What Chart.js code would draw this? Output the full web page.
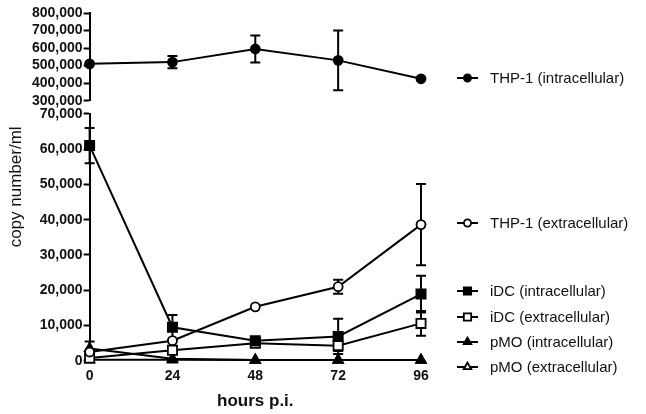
<!DOCTYPE html>
<html>
<head>
<meta charset="utf-8">
<script src="https://cdn.jsdelivr.net/npm/chart.js@4.4.1/dist/chart.umd.min.js"></script>
<style>
  html, body { margin: 0; padding: 0; background: #fff; }
  #wrap { width: 646px; height: 414px; position: relative; }
</style>
</head>
<body>
<div id="wrap"><canvas id="myChart" width="646" height="414"></canvas></div>
<script>
// hours post infection
var hours = [0, 24, 48, 72, 96];

// copy number/ml
var thp1Intra = [510000, 520000, 595000, 530000, 425000];
var thp1IntraErr = [0, 35000, 77000, 170000, 0];
var thp1Extra = [2500, 5700, 15300, 21000, 38600];
var thp1ExtraErr = [0, 0, 0, 2000, 11500];
var idcIntra = [61000, 9500, 5700, 6900, 18900];
var idcIntraErr = [5000, 3500, 0, 5000, 5200];
var idcExtra = [800, 3000, 5000, 4300, 10600];
var idcExtraErr = [0, 0, 1000, 1500, 3500];
var pmoIntra = [3500, 600, 200, 200, 200];
var pmoIntraErr = [2000, 0, 0, 0, 0];
var pmoExtra = [300, 300, 200, 200, 200];
var pmoExtraErr = [0, 0, 0, 0, 0];

var labels = ['THP-1 (intracellular)', 'THP-1 (extracellular)', 'iDC (intracellular)',
              'iDC (extracellular)', 'pMO (intracellular)', 'pMO (extracellular)'];
var topTicks = [300000, 800000];
var bottomTicks = [0, 70000];

function pts(vals) {
    return vals.map(function (v, i) { return { x: hours[i], y: v }; });
}

function series(label, vals, errs, style, filled, radius, axis) {
    return {
        label: label,
        data: pts(vals),
        errors: errs,
        yAxisID: axis,
        borderColor: '#000',
        borderWidth: 2,
        pointStyle: style,
        pointRadius: radius,
        pointBorderWidth: 1.8,
        pointBackgroundColor: filled ? '#000' : '#fff',
        pointBorderColor: '#000',
        clip: false,
        tension: 0
    };
}

// error bars drawn under the markers
var errorBars = {
    id: 'errorBars',
    beforeDatasetsDraw: function (chart) {
        var ctx = chart.ctx;
        var xs = chart.scales.x;
        ctx.save();
        ctx.strokeStyle = '#000';
        ctx.lineWidth = 2;
        chart.data.datasets.forEach(function (ds) {
            var ys = chart.scales[ds.yAxisID];
            ds.data.forEach(function (p, i) {
                var e = ds.errors[i];
                if (!e) return;
                var x = xs.getPixelForValue(p.x);
                var y1 = ys.getPixelForValue(p.y + e);
                var y2 = ys.getPixelForValue(p.y - e);
                ctx.beginPath();
                ctx.moveTo(x, y1); ctx.lineTo(x, y2);
                ctx.moveTo(x - 5, y1); ctx.lineTo(x + 5, y1);
                ctx.moveTo(x - 5, y2); ctx.lineTo(x + 5, y2);
                ctx.stroke();
            });
        });
        ctx.restore();
    }
};

// y title and the legend on the right
var legendYs = [78, 223, 291, 317, 342, 367];
var extras = {
    id: 'extras',
    afterDraw: function (chart) {
        var ctx = chart.ctx;
        var area = chart.chartArea;
        ctx.save();
        ctx.fillStyle = '#111';
        ctx.font = '17px "Liberation Sans", Arial, sans-serif';
        ctx.textAlign = 'center';
        ctx.textBaseline = 'middle';
        ctx.translate(16, (area.top + area.bottom) / 2);
        ctx.rotate(-Math.PI / 2);
        ctx.fillText('copy number/ml', 0, 0);
        ctx.restore();

        ctx.save();
        chart.data.datasets.forEach(function (ds, i) {
            var y = legendYs[i];
            ctx.strokeStyle = '#000';
            ctx.lineWidth = 2;
            ctx.beginPath();
            ctx.moveTo(457, y); ctx.lineTo(478, y);
            ctx.stroke();
            ctx.fillStyle = ds.pointBackgroundColor;
            ctx.lineWidth = 1.8;
            Chart.helpers.drawPoint(ctx, {
                pointStyle: ds.pointStyle,
                radius: ds.pointRadius * 0.8,
                rotation: 0,
                borderWidth: 1.8
            }, 467.5, y);
            ctx.fillStyle = '#111';
            ctx.font = '15px "Liberation Sans", Arial, sans-serif';
            ctx.textAlign = 'left';
            ctx.textBaseline = 'middle';
            ctx.fillText(ds.label, 490, y + 1);
        });
        ctx.restore();
    }
};

var tickFont = { family: '"Liberation Sans", Arial, sans-serif', size: 14, weight: 'bold' };
function fmt(v) { return Number(v).toLocaleString('en-US'); }

var ctx = document.getElementById('myChart').getContext('2d');
var chart = new Chart(ctx, {
    type: 'line',
    data: {
        datasets: [
            series(labels[0], thp1Intra, thp1IntraErr, 'circle', true, 4.5, 'yTop'),
            series(labels[1], thp1Extra, thp1ExtraErr, 'circle', false, 4.5, 'y'),
            series(labels[2], idcIntra, idcIntraErr, 'rect', true, 6.5, 'y'),
            series(labels[3], idcExtra, idcExtraErr, 'rect', false, 6.5, 'y'),
            series(labels[4], pmoIntra, pmoIntraErr, 'triangle', true, 5.5, 'y'),
            series(labels[5], pmoExtra, pmoExtraErr, 'triangle', false, 5.5, 'y')
        ]
    },
    options: {
        responsive: false,
        animation: false,
        layout: { padding: { left: 31, right: 225, top: 13, bottom: 2 } },
        plugins: { legend: { display: false }, tooltip: { enabled: false } },
        scales: {
            x: {
                type: 'linear',
                min: hours[0],
                max: hours[hours.length - 1],
                grid: { display: false, drawTicks: false },
                border: { display: false },
                ticks: { stepSize: 24, color: '#111', font: tickFont, padding: 7 },
                title: {
                    display: true,
                    text: 'hours p.i.',
                    color: '#111',
                    font: { family: '"Liberation Sans", Arial, sans-serif', size: 17, weight: 'bold' },
                    padding: { top: 0, bottom: 0 }
                }
            },
            // stacked axes are placed bottom-up in the order they are defined
            y: {
                type: 'linear',
                position: 'left',
                stack: 'left',
                stackWeight: 245,
                min: bottomTicks[0],
                max: bottomTicks[1],
                grid: { display: true, drawOnChartArea: false, tickLength: 6, tickWidth: 2, color: '#000' },
                border: { display: true, color: '#000', width: 2 },
                ticks: { stepSize: 10000, autoSkip: false, color: '#111', font: tickFont, padding: 1, callback: fmt }
            },
            yGap: {
                type: 'linear',
                position: 'left',
                stack: 'left',
                stackWeight: 13,
                grid: { display: false },
                border: { display: false },
                ticks: { display: false }
            },
            yTop: {
                type: 'linear',
                position: 'left',
                stack: 'left',
                stackWeight: 87,
                min: topTicks[0],
                max: topTicks[1],
                grid: { display: true, drawOnChartArea: false, tickLength: 6, tickWidth: 2, color: '#000' },
                border: { display: true, color: '#000', width: 2 },
                ticks: { stepSize: 100000, autoSkip: false, color: '#111', font: tickFont, padding: 1, callback: fmt }
            }
        }
    },
    plugins: [errorBars, extras]
});
</script>
</body>
</html>
